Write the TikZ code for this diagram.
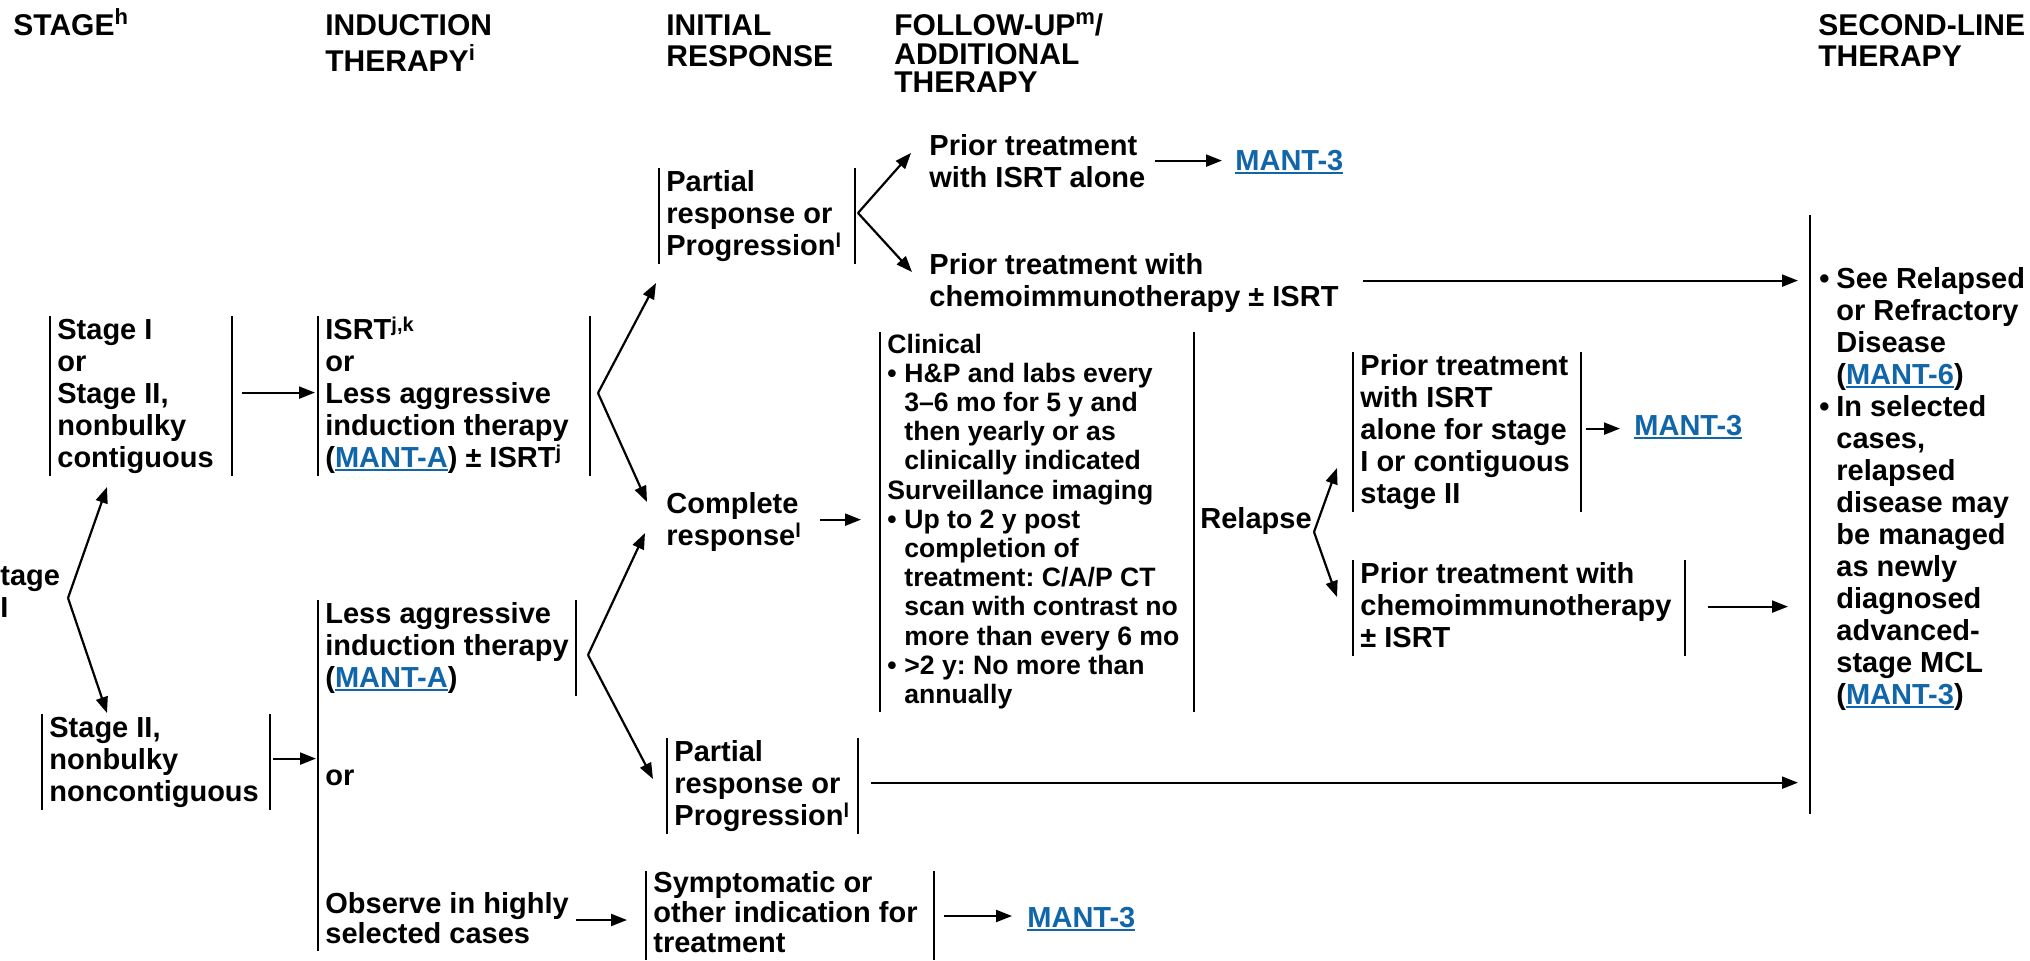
\documentclass[tikz,border=0pt]{standalone}
\usepackage{fontspec}
\usetikzlibrary{arrows.meta,calc}
\setmainfont{Liberation Sans}
\newfontfamily\bodyfont{Liberation Sans}
\newfontfamily\headfont{Liberation Sans}
\definecolor{linkblue}{RGB}{17,102,170}
\frenchspacing
\newdimen\pxu \pxu=0.5pt
\newcommand\ml[1]{\begin{tabular}[t]{@{}l@{}}#1\end{tabular}}
\newcommand\bxt[2]{\makebox[#1\pxu][l]{\ml{#2}}}
\newcommand\supb[1]{\raisebox{8\pxu}{\fontsize{10pt}{10pt}\selectfont #1}}
\newcommand\suph[1]{\raisebox{11\pxu}{\fontsize{11pt}{11pt}\selectfont #1}}
\newcommand\lk[1]{{\color{linkblue}\setbox0\hbox{#1}\rlap{\rule[-4\pxu]{\wd0}{1.8\pxu}}\box0}}
\newcommand\hb{\makebox[17\pxu][l]{•}}
\newcommand\hi{\hspace*{17\pxu}}
\newcommand\brk[1]{\draw[bar] (#1.north west) -- ($(#1.south west)+(0,-1)$); \draw[bar] (#1.north east) -- ($(#1.south east)+(0,-1)$);}
\tikzset{
 bodyf/.style={font=\bodyfont\bfseries\frenchspacing\fontsize{14.5pt}{16pt}\selectfont},
 bx/.style={bodyf, inner xsep=3.5pt, inner ysep=0pt, anchor=base west},
 tx/.style={bodyf, inner sep=0pt, anchor=base west},
 hd/.style={font=\headfont\bfseries\fontsize{15pt}{15.5pt}\selectfont, inner sep=0pt, anchor=base west},
 bar/.style={line width=1.1pt},
 arr/.style={line width=1.1pt, -{Triangle[length=8pt,width=6pt]}},
}
\begin{document}
\begin{tikzpicture}[x=0.5pt,y=-0.5pt]
\fill[white] (0,0) rectangle (2030,960);
\useasboundingbox (0,0) rectangle (2030,960);

% headers
\node[hd] (h1) at (13,35) {\ml{STAGE\suph{h}}};
\node[hd] (h2) at (325,35) {\ml{INDUCTION\\THERAPY\suph{i}}};
\node[hd] (h3) at (666,35) {\ml{INITIAL\\RESPONSE}};
\node[hd, font=\headfont\bfseries\fontsize{15pt}{13.5pt}\selectfont] (h4) at (894,35) {\ml{FOLLOW-UP\suph{m}/\\ADDITIONAL\\THERAPY}};
\node[hd] (h5) at (1818,35) {\ml{SECOND-LINE\\THERAPY}};

% stage column
\node[tx] (tg) at (0,585) {\ml{tage\\I}};
\node[bx] (s1) at (50,339) {\bxt{167}{Stage I\\or\\Stage II,\\nonbulky\\contiguous}};
\node[bx] (s2) at (42,737) {\bxt{213}{Stage II,\\nonbulky\\noncontiguous}};

% induction column
\node[bx] (i1) at (318,339) {\bxt{257}{ISRT\supb{j,k}\\or\\Less aggressive\\induction therapy\\(\lk{MANT-A}) ± ISRT\supb{j}}};
\node[bx] (i2) at (318,623) {\bxt{243}{Less aggressive\\induction therapy\\(\lk{MANT-A})}};
\node[tx] (or2) at (325,785) {or};
\node[bx, font=\bodyfont\bfseries\fontsize{14.5pt}{15pt}\selectfont] (obs) at (318,913) {\ml{Observe in highly\\selected cases}};

% initial response column
\node[bx] (p1) at (659,191) {\bxt{181}{Partial\\response or\\Progression\supb{l}}};
\node[tx] (cr) at (666,513) {\ml{Complete\\response\supb{l}}};
\node[bx] (p2) at (667,761) {\bxt{176}{Partial\\response or\\Progression\supb{l}}};
\node[bx, font=\bodyfont\bfseries\fontsize{14.5pt}{15pt}\selectfont] (sy) at (646,892) {\bxt{273}{Symptomatic or\\other indication for\\treatment}};
\node[tx] (m3) at (1027,927) {\lk{MANT-3}};

% follow-up column
\node[tx] (pa) at (929,155) {\ml{Prior treatment\\with ISRT alone}};
\node[tx] (m1) at (1235,170) {\lk{MANT-3}};
\node[tx] (pc) at (929,274) {\ml{Prior treatment with\\chemoimmunotherapy ± ISRT}};
\node[bx, font=\bodyfont\bfseries\fontsize{13.3pt}{14.6pt}\selectfont] (cl) at (880,353) {\bxt{299}{Clinical\\
\hb H\&P and labs every\\
\hi 3–6 mo for 5 y and\\
\hi then yearly or as\\
\hi clinically indicated\\
Surveillance imaging\\
\hb Up to 2 y post\\
\hi completion of\\
\hi treatment: C/A/P CT\\
\hi scan with contrast no\\
\hi more than every 6 mo\\
\hb >2 y: No more than\\
\hi annually}};
\node[tx] (rl) at (1200,528) {Relapse};
\node[bx] (ra) at (1353,375) {\bxt{213}{Prior treatment\\with ISRT\\alone for stage\\I or contiguous\\stage II}};
\node[tx] (m2) at (1634,435) {\lk{MANT-3}};
\node[bx] (rc) at (1353,583) {\bxt{317}{Prior treatment with\\chemoimmunotherapy\\± ISRT}};

% second-line column
\node[bx, inner xsep=4.5pt] (sl) at (1810,288) {\ml{\hb See Relapsed\\
\hi or Refractory\\
\hi Disease\\
\hi (\lk{MANT-6})\\
\hb In selected\\
\hi cases,\\
\hi relapsed\\
\hi disease may\\
\hi be managed\\
\hi as newly\\
\hi diagnosed\\
\hi advanced-\\
\hi stage MCL\\
\hi (\lk{MANT-3})}};

% brackets
\brk{s1}
\brk{s2}
\brk{i1}
\brk{p1}
\brk{p2}
\brk{sy}
\brk{cl}
\brk{ra}
\brk{rc}
\draw[bar] (i2.north west) -- ($(i2.north west |- obs.south)+(0,-1)$);
\draw[bar] (i2.north east) -- ($(i2.south east)+(0,-1)$);
\draw[bar] ($(sl.north west)+(0,-50)$) -- ($(sl.south west)+(0,100)$);

% fork coordinates
\coordinate (v0) at (68,598);
\coordinate (t0a) at (107,487);
\coordinate (t0b) at (107,713);
\coordinate (f1) at (598,393);
\coordinate (t1a) at (656,283);
\coordinate (t1b) at (647,502);
\coordinate (f2) at (588,655);
\coordinate (t2a) at (645,533);
\coordinate (t2b) at (653,779);
\coordinate (f4) at (858,213);
\coordinate (t4a) at (911,153);
\coordinate (t4b) at (912,272);
\coordinate (f3) at (1314,532);
\coordinate (t3a) at (1337,468);
\coordinate (t3b) at (1337,597);

\foreach \v/\t in {v0/t0a,v0/t0b,f1/t1a,f1/t1b,f2/t2a,f2/t2b,f4/t4a,f4/t4b,f3/t3a,f3/t3b}
  \draw[arr] (\v) -- (\t);

% straight connectors
\draw[arr, shorten <=5pt, shorten >=1.5pt] ($(s1.east)+(0,-4)$) -- ($(s1.east -| i1.west)+(0,-4)$);
\draw[arr, shorten <=1.5pt, shorten >=1pt] ($(s2.east)+(0,-4)$) -- ($(s2.east -| i2.west)+(0,-4)$);
\draw[arr, shorten >=9.5pt] ($(obs.east)+(0,-2)$) -- ($(obs.east -| sy.west)+(0,-2)$);
\draw[arr, shorten <=5pt, shorten >=7.5pt] (sy.east) -- (sy.east -| m3.west);
\draw[arr, shorten <=9.5pt, shorten >=9.5pt] ($(cr.east)+(0,-3)$) -- ($(cr.east -| cl.west)+(0,-3)$);
\draw[arr, shorten <=4.5pt, shorten >=6.5pt] ($(pa.east)+(0,-4)$) -- ($(pa.east -| m1.west)+(0,-4)$);
\draw[arr, shorten <=12pt, shorten >=6pt] ($(pc.east)+(0,-3)$) -- ($(pc.east -| sl.west)+(0,-3)$);
\draw[arr, shorten <=2.5pt, shorten >=7pt] ($(ra.east)+(0,-4)$) -- ($(ra.east -| m2.west)+(0,-4)$);
\draw[arr, shorten <=11.5pt, shorten >=11pt] ($(rc.east)+(0,-2)$) -- ($(rc.east -| sl.west)+(0,-2)$);
\draw[arr, shorten <=6.5pt, shorten >=6pt] ($(p2.east)+(0,-4)$) -- ($(p2.east -| sl.west)+(0,-4)$);
\end{tikzpicture}
\end{document}
